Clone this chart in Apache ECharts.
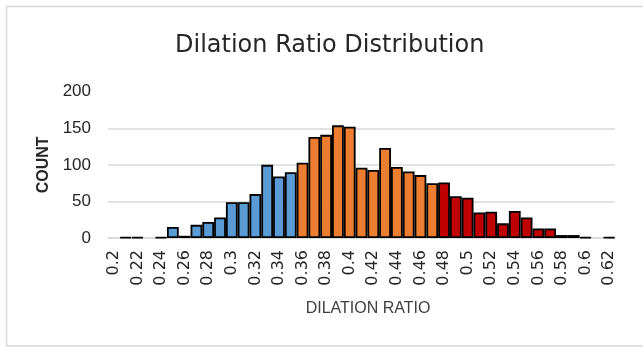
<!DOCTYPE html>
<html>
<head>
<meta charset="utf-8">
<script src="https://cdn.jsdelivr.net/npm/echarts@6/dist/echarts.min.js"></script>
<style>
html,body{margin:0;padding:0;background:#fff;}
#chart{width:643px;height:347px;}
</style>
</head>
<body>
<div id="chart"></div>
<script>
var categories = ['0.2','0.21','0.22','0.23','0.24','0.25','0.26','0.27','0.28','0.29',
  '0.3','0.31','0.32','0.33','0.34','0.35','0.36','0.37','0.38','0.39',
  '0.4','0.41','0.42','0.43','0.44','0.45','0.46','0.47','0.48','0.49',
  '0.5','0.51','0.52','0.53','0.54','0.55','0.56','0.57','0.58','0.59',
  '0.6','0.61','0.62'];
var counts = [0,1,1,0,1,15,3,18,22,28,
  49,49,60,100,84,90,103,138,141,154,
  152,96,93,123,97,91,86,75,76,57,
  55,35,36,20,37,28,13,13,4,4,
  1,0,1];
// group boundaries (category labels where the colour changes)
var groupStarts = ['0.2','0.36','0.48'];
var groupColors = ['#5B9BD5','#ED7D31','#C00000'];
var yTicks = [0,50,100,150,200];

function groupOf(cat){
  var v = parseFloat(cat), g = 0;
  for (var i = 0; i < groupStarts.length; i++) if (v >= parseFloat(groupStarts[i]) - 1e-9) g = i;
  return g;
}
var data = counts.map(function(c, i){
  return {value: c === 0 ? '-' : c, itemStyle: {color: groupColors[groupOf(categories[i])]}};
});

var chart = echarts.init(document.getElementById('chart'), null, {renderer:'canvas'});
var font = 'Liberation Sans';
chart.setOption({
  backgroundColor: '#fff',
  animation: false,
  title: {
    text: 'Dilation Ratio Distribution',
    left: 170, top: 29,
    textStyle: {fontFamily: 'DejaVu Sans', fontSize: 24, fontWeight: 'normal', color: '#262626'}
  },
  graphic: [{
    type: 'rect', shape: {x: 6.5, y: 6.5, width: 660, height: 339.5},
    style: {fill: 'none', stroke: '#D9D9D9', lineWidth: 1.5}, silent: true
  }],
  grid: {left: 108, right: 28, top: 91.7, bottom: 109, containLabel: false},
  xAxis: {
    type: 'category',
    data: categories,
    name: 'DILATION RATIO',
    nameLocation: 'middle',
    nameGap: 63,
    nameTextStyle: {fontFamily: font, fontSize: 16, color: '#404040', padding: [0,0,0,13]},
    axisLine: {lineStyle: {color: '#D9D9D9', width: 1.5}},
    axisTick: {show: false},
    axisLabel: {
      interval: 1, rotate: 90, margin: 12,
      fontFamily: 'DejaVu Sans', fontSize: 16, color: '#262626'
    }
  },
  yAxis: {
    type: 'value', min: yTicks[0], max: yTicks[yTicks.length-1], interval: 50,
    name: 'COUNT', nameLocation: 'middle', nameRotate: 90, nameGap: 55,
    nameTextStyle: {fontFamily: font, fontSize: 16, fontWeight: 'bold', color: '#262626'},
    axisLine: {show: false}, axisTick: {show: false},
    axisLabel: {fontFamily: font, fontSize: 17, color: '#262626', margin: 17},
    splitLine: {show: true, showMaxLine: false, lineStyle: {color: '#D9D9D9', width: 1.5}}
  },
  series: [{
    type: 'bar',
    data: data,
    barCategoryGap: '0%',
    itemStyle: {borderColor: '#000', borderWidth: 1.8}
  }]
});
</script>
</body>
</html>
